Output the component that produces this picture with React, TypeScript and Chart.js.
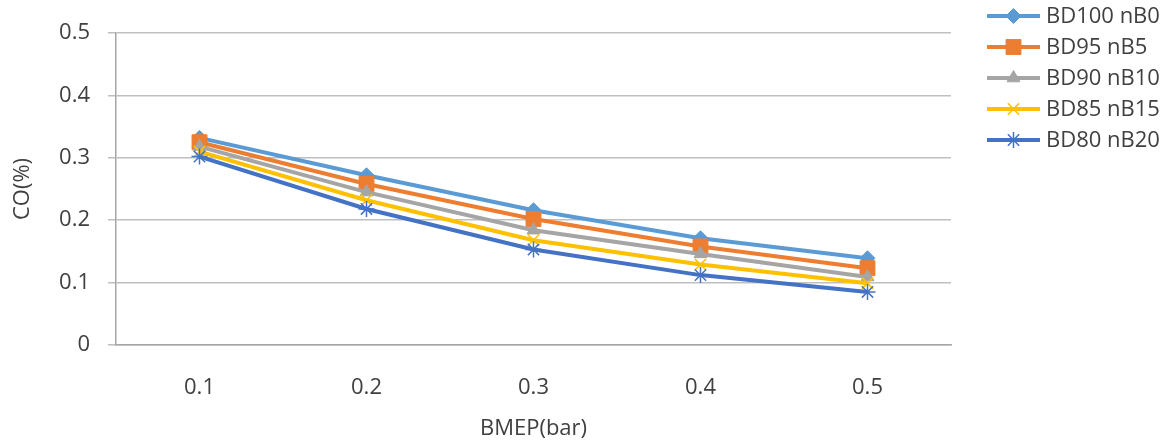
import React, { useEffect, useRef } from "react";
import { Chart, PointElement, registerables } from "chart.js";

Chart.register(...registerables);

// BMEP load points (bar)
const categories = ["0.1", "0.2", "0.3", "0.4", "0.5"];

// CO emission (%) per fuel blend
const seriesNames = ["BD100 nB0", "BD95 nB5", "BD90 nB10", "BD85 nB15", "BD80 nB20"];
const bd100nb0 = [0.332, 0.272, 0.216, 0.171, 0.139];
const bd95nb5 = [0.325, 0.258, 0.202, 0.158, 0.123];
const bd90nb10 = [0.318, 0.245, 0.184, 0.146, 0.109];
const bd85nb15 = [0.31, 0.232, 0.168, 0.129, 0.099];
const bd80nb20 = [0.302, 0.218, 0.153, 0.112, 0.085];

const seriesColors = ["#5B9BD5", "#ED7D31", "#A5A5A5", "#FFC000", "#4472C4"];
const seriesMarkers = ["rectRot", "rect", "triangle", "crossRot", "star"];
const markerRadius = [7.5, 10.5, 7.5, 8, 8];
const markerBorder = [1, 1, 1, 1.5, 1.5];

const FONT = "'Open Sans', 'Noto Sans', sans-serif";
const TEXT = "#404040";

// Legend drawn to the right of the plot: a line sample with the marker on top
const sideLegend = {
  id: "sideLegend",
  afterDraw(chart: any) {
    const ctx = chart.ctx;
    const x0 = 987;
    const x1 = 1040;
    const top = 16;
    const step = 31;
    ctx.save();
    chart.data.datasets.forEach((ds: any, i: number) => {
      const y = top + i * step;
      ctx.strokeStyle = ds.borderColor;
      ctx.lineWidth = 4;
      ctx.beginPath();
      ctx.moveTo(x0, y);
      ctx.lineTo(x1, y);
      ctx.stroke();

      const marker: any = new (PointElement as any)({});
      marker.x = (x0 + x1) / 2;
      marker.y = y;
      marker.options = {
        pointStyle: ds.pointStyle,
        radius: ds.pointRadius,
        rotation: 0,
        borderWidth: ds.pointBorderWidth,
        backgroundColor: ds.pointBackgroundColor,
        borderColor: ds.pointBorderColor,
      };
      marker.draw(ctx);

      ctx.fillStyle = TEXT;
      ctx.font = `22px ${FONT}`;
      ctx.textAlign = "left";
      ctx.textBaseline = "middle";
      ctx.fillText(ds.label, 1046, y + 1);
    });
    ctx.restore();
  },
};

export default function App() {
  const canvasRef = useRef<HTMLCanvasElement | null>(null);

  useEffect(() => {
    document.body.style.margin = "0";
    const canvas = canvasRef.current;
    if (!canvas) return;
    const values = [bd100nb0, bd95nb5, bd90nb10, bd85nb15, bd80nb20];

    const datasets = values.map((data, i) => ({
      label: seriesNames[i],
      data,
      borderColor: seriesColors[i],
      backgroundColor: seriesColors[i],
      borderWidth: 4,
      pointStyle: seriesMarkers[i],
      pointRadius: markerRadius[i],
      pointBackgroundColor: seriesColors[i],
      pointBorderColor: seriesColors[i],
      pointBorderWidth: markerBorder[i],
      tension: 0,
      // later series are painted over earlier ones
      order: values.length - i,
    }));

    const chart = new Chart(canvas, {
      type: "line",
      data: { labels: categories, datasets },
      plugins: [sideLegend],
      options: {
        animation: false,
        responsive: true,
        maintainAspectRatio: false,
        layout: { padding: { top: 33, right: 221, left: 0, bottom: 0 } },
        plugins: {
          legend: { display: false },
          tooltip: { enabled: false },
        },
        scales: {
          x: {
            type: "category",
            offset: true,
            afterFit: (s: any) => {
              s.height = 100;
            },
            grid: { display: false, drawTicks: false },
            border: { display: true, color: "#A6A6A6", width: 1.5 },
            ticks: {
              color: TEXT,
              font: { family: FONT, size: 22 },
              padding: 30,
              maxRotation: 0,
            },
            title: {
              display: true,
              text: "BMEP(bar)",
              color: TEXT,
              font: { family: FONT, size: 22 },
              padding: { top: 0, bottom: 3 },
            },
          },
          y: {
            min: 0,
            max: 0.5,
            afterFit: (s: any) => {
              s.width = 116;
            },
            grid: { color: "#BFBFBF", lineWidth: 1.5, tickLength: 8, drawTicks: true },
            border: { display: true, color: "#A6A6A6", width: 1.5 },
            ticks: {
              stepSize: 0.1,
              color: TEXT,
              font: { family: FONT, size: 22 },
              padding: 18,
              callback: (v: any) => String(Math.round(Number(v) * 10) / 10),
            },
            title: {
              display: true,
              text: "CO(%)",
              color: TEXT,
              font: { family: FONT, size: 22 },
              padding: { top: 10, bottom: 0 },
            },
          },
        },
      },
    });
    return () => chart.destroy();
  }, []);

  return (
    <div style={{ width: 1172, height: 445, position: "relative" }}>
      <canvas ref={canvasRef} />
    </div>
  );
}
